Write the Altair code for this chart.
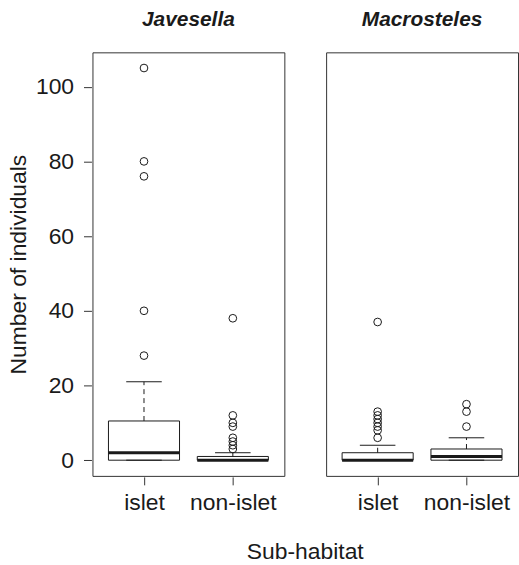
import altair as alt
import pandas as pd

# ---- data (box summaries per group) ----
species = ["Javesella", "Javesella", "Macrosteles", "Macrosteles"]
habitat = ["islet", "non-islet", "islet", "non-islet"]
position = [1, 2, 1, 2]
q1 = [0, 0, 0, 0]
median = [2, 0, 0, 1]
q3 = [10.5, 1, 2, 3]
whisker_low = [0, 0, 0, 0]
whisker_high = [21, 2, 4, 6]
outliers = [
    [28, 40, 76, 80, 105],
    [3, 4, 5, 6, 9, 10, 12, 38],
    [6, 8, 9, 10, 11, 12, 13, 37],
    [9, 13, 15],
]
y_ticks = [0, 20, 40, 60, 80, 100]
x_ticks = [1, 2]
x_labels = ["islet", "non-islet"]
panel_order = ["Javesella", "Macrosteles"]

df = pd.DataFrame({
    "species": species, "habitat": habitat, "pos": position,
    "q1": q1, "median": median, "q3": q3,
    "wlo": whisker_low, "whi": whisker_high, "outliers": outliers,
})

INK = "#1a1a1a"
FRAME = "#333333"
FONT = "Liberation Sans"

xs = alt.Scale(domain=[0.42, 2.58], nice=False, zero=False)
ys = alt.Scale(domain=[-4.2, 109.2], nice=False, zero=False)

label_expr = "datum.value == 1 ? '%s' : '%s'" % (x_labels[0], x_labels[1])
x_axis = alt.Axis(values=x_ticks, labelExpr=label_expr, title=None, domain=False,
                  grid=False, ticks=True, tickSize=8, tickColor=FRAME,
                  labelFontSize=23, labelColor=INK, labelPadding=7, labelFont=FONT)
y_axis = alt.Axis(values=y_ticks, title="Number of individuals", domain=False,
                  grid=False, tickSize=8, tickColor=FRAME, labelFontSize=23,
                  labelColor=INK, labelPadding=10, labelFont=FONT,
                  titleFontSize=23, titleFont=FONT, titleColor=INK,
                  titleFontWeight="normal", titlePadding=5)

base = alt.Chart().transform_calculate(
    xl="datum.pos - 0.4", xr="datum.pos + 0.4",
    cl="datum.pos - 0.2", cr="datum.pos + 0.2",
)

box = base.mark_rect(fill="white", stroke=INK, strokeWidth=1).encode(
    x=alt.X("xl:Q", scale=xs, axis=x_axis),
    x2="xr:Q",
    y=alt.Y("q1:Q", scale=ys, axis=y_axis),
    y2="q3:Q",
)
med = base.mark_rule(color=INK, strokeWidth=3).encode(
    x=alt.X("xl:Q", scale=xs), x2="xr:Q", y=alt.Y("median:Q", scale=ys))
wh_up = base.mark_rule(color=INK, strokeWidth=1, strokeDash=[5, 4]).encode(
    x=alt.X("pos:Q", scale=xs), y=alt.Y("q3:Q", scale=ys), y2="whi:Q")
wh_lo = base.mark_rule(color=INK, strokeWidth=1, strokeDash=[5, 4]).encode(
    x=alt.X("pos:Q", scale=xs), y=alt.Y("wlo:Q", scale=ys), y2="q1:Q")
cap_up = base.mark_rule(color=INK, strokeWidth=1).encode(
    x=alt.X("cl:Q", scale=xs), x2="cr:Q", y=alt.Y("whi:Q", scale=ys))
cap_lo = base.mark_rule(color=INK, strokeWidth=1).encode(
    x=alt.X("cl:Q", scale=xs), x2="cr:Q", y=alt.Y("wlo:Q", scale=ys))
pts = alt.Chart().transform_flatten(["outliers"]).mark_point(
    shape="circle", filled=False, size=60, stroke=INK, strokeWidth=1, opacity=1
).encode(
    x=alt.X("pos:Q", scale=xs),
    y=alt.Y("outliers:Q", scale=ys),
)

layered = alt.layer(box, wh_up, wh_lo, cap_up, cap_lo, med, pts).properties(
    width=193, height=426)

chart = layered.facet(
    column=alt.Column(
        "species:N", sort=panel_order,
        header=alt.Header(
            title="Sub-habitat", titleOrient="bottom", labelOrient="top",
            labelFont=FONT, labelFontSize=21, labelFontWeight="bold",
            labelFontStyle="italic", labelColor=INK, labelPadding=21,
            titleFont=FONT, titleFontSize=23, titleFontWeight="normal",
            titleColor=INK, titlePadding=17,
        ),
    ),
    data=df,
    spacing=40,
).properties(
    padding={"left": 7, "top": 8, "right": 0, "bottom": 0},
).configure(font=FONT).configure_view(
    stroke=FRAME, strokeWidth=1
)

chart.save("out.html", embed_options={"renderer": "svg", "actions": False})
